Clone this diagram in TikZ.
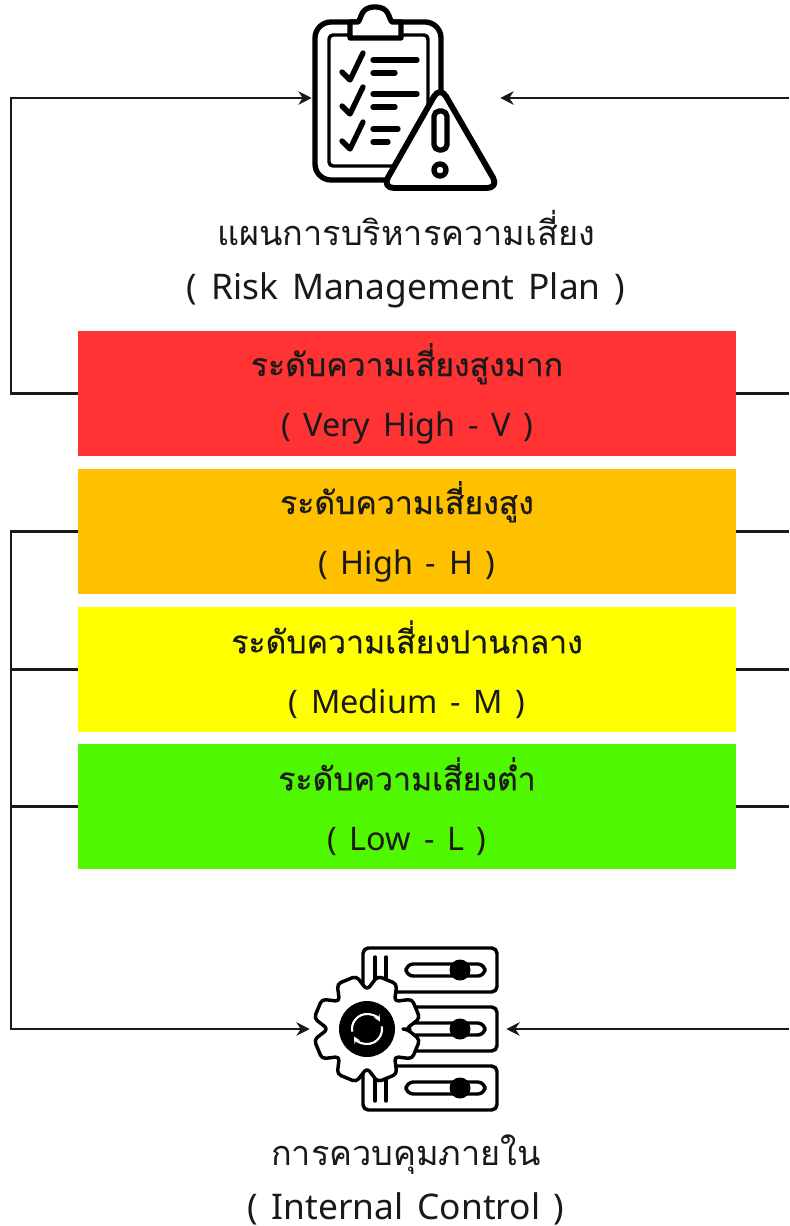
\documentclass[tikz,border=0pt]{standalone}
\usepackage{fontspec}
\usepackage{xcolor}
\setmainfont[WordSpace=1.5]{Noto Sans}
\newfontfamily\thaifont[Script=Thai]{Loma}
\newfontfamily\thaiheavyfont[Script=Thai,FakeBold=0.4]{Loma}
\usetikzlibrary{arrows.meta}
\definecolor{veryhighred}{HTML}{FF3333}
\definecolor{highorange}{HTML}{FFC000}
\definecolor{mediumyellow}{HTML}{FFFF00}
\definecolor{lowgreen}{HTML}{4FF800}
\newcommand{\leveltext}[2]{{\fontsize{24}{45}\thaiheavyfont #1}\\#2}
\newcommand{\captiontext}[2]{{\fontsize{25.7}{40}\thaifont #1}\\#2}
\tikzset{
  level/.style={minimum width=493.5pt, minimum height=93.75pt, inner sep=0pt, align=center, text=black!90, font=\fontsize{24.3}{45}\selectfont},
  caption/.style={inner sep=0pt, align=center, text=black!90, font=\fontsize{26.5}{40}\selectfont},
  icon/.style={inner sep=0pt},
  flow/.style={line width=1.7pt, black!90},
  flowarrow/.style={flow, -{Stealth[length=10pt,width=10pt]}},
  ink/.style={line width=4pt, line cap=round, line join=round},
  thin ink/.style={line width=2.6pt, line cap=round, line join=round}
}
\begin{document}
\begin{tikzpicture}[x=0.75pt,y=-0.75pt]
    \useasboundingbox (0,0) rectangle (789,1226);

    % Icons (only the frames, the drawings follow below)
    \node[icon, minimum width=141pt, minimum height=142pt] (plan) at (406,98) {};
    \node[icon, minimum width=147pt, minimum height=124pt] (control) at (408,1029) {};

    % Captions
    \node[caption] (plantext) at (406,259) {\captiontext{แผนการบริหารความเสี่ยง}{( Risk Management Plan )}};
    \node[caption] (controltext) at (406,1180) {\captiontext{การควบคุมภายใน}{( Internal Control )}};

    % Risk levels
    \node[level, fill=veryhighred] (veryhigh) at (407,393.5) {\leveltext{ระดับความเสี่ยงสูงมาก}{( Very High - V )}};
    \node[level, fill=highorange] (high) at (407,531.5) {\leveltext{ระดับความเสี่ยงสูง}{( High - H )}};
    \node[level, fill=mediumyellow] (medium) at (407,669.5) {\leveltext{ระดับความเสี่ยงปานกลาง}{( Medium - M )}};
    \node[level, fill=lowgreen] (low) at (407,806.5) {\leveltext{ระดับความเสี่ยงต่ำ}{( Low - L )}};

    % Free ends of the connectors
    \coordinate (lefttop) at (11,98);
    \coordinate (leftbottom) at (11,1029);
    \coordinate (righttop) at (789,98);
    \coordinate (rightbottom) at (789,1029);

    % Left connectors
    \draw[flowarrow] (veryhigh.west) -| (lefttop) -- (plan.west);
    \draw[flowarrow] (high.west) -| (leftbottom) -- (control.west);
    \draw[flow] (medium.west) -- (medium.west -| leftbottom);
    \draw[flow] (low.west) -- (low.west -| leftbottom);

    % Right connectors
    \draw[flowarrow] (righttop) -- (plan.east);
    \draw[flowarrow] (rightbottom) -- (control.east);
    \draw[flow] (veryhigh.east) -- (veryhigh.east -| righttop);
    \draw[flow] (high.east) -- (high.east -| righttop);
    \draw[flow] (medium.east) -- (medium.east -| righttop);
    \draw[flow] (low.east) -- (low.east -| righttop);

    % Clipboard
    \draw[ink, rounded corners=12pt] (315,22) rectangle (441,180);
    \draw[thin ink, rounded corners=3pt] (329,35) rectangle (428,166);
    \draw[ink, fill=white] (350,22) -- (350,38) -- (401,38) -- (401,22) -- (392,22)
        .. controls (388,18) and (390,7) .. (375,7) .. controls (360,7) and (362,18) .. (358,22) -- cycle;
    \foreach \ytop/\xa/\xb in {0/417/395, 34/417/395, 69/398/388} {
        \draw[ink] (342,72+\ytop) -- (350,80+\ytop) -- (363,53+\ytop);
        \draw[ink] (373,60+\ytop) -- (\xa,60+\ytop);
        \draw[ink] (373,73+\ytop) -- (\xb,73+\ytop);
    }

    % Warning triangle
    \draw[ink, line width=4.4pt, fill=white, rounded corners=9pt] (440,86) -- (382,188) -- (499,188) -- cycle;
    \draw[ink, rounded corners=4pt] (434,111) rectangle (447,150);
    \draw[ink] (440,170) circle[radius=6];

    % Slider panels
    \foreach \ymid in {970,1029,1088} {
        \draw[thin ink, rounded corners=4pt] (363,\ymid-22) rectangle (497,\ymid+22);
        \draw[thin ink, rounded corners=5.5pt] (406,\ymid-6) rectangle (485,\ymid+6);
        \fill (460,\ymid) circle[radius=10.5];
    }
    \draw[thin ink] (375,957) -- (375,1000) (386,957) -- (386,1000);
    \draw[thin ink] (375,1060) -- (375,1101) (386,1060) -- (386,1101);

    % Gear
    \begin{scope}[shift={(367,1029)}]
        \draw[thin ink, fill=white, rounded corners=3pt] (0:40)
            \foreach \a in {22.5,67.5,...,337.5} { -- (\a-11:54) -- (\a+11:54) -- (\a+22.5:39) } -- cycle;
        \fill (0,0) circle[radius=28];
        \draw[white, line width=1.6pt, -{Stealth[length=5pt,width=5pt]}] (170:15) arc[start angle=170, end angle=330, radius=15];
        \draw[white, line width=1.6pt, -{Stealth[length=5pt,width=5pt]}] (350:15) arc[start angle=350, end angle=510, radius=15];
    \end{scope}
\end{tikzpicture}
\end{document}
